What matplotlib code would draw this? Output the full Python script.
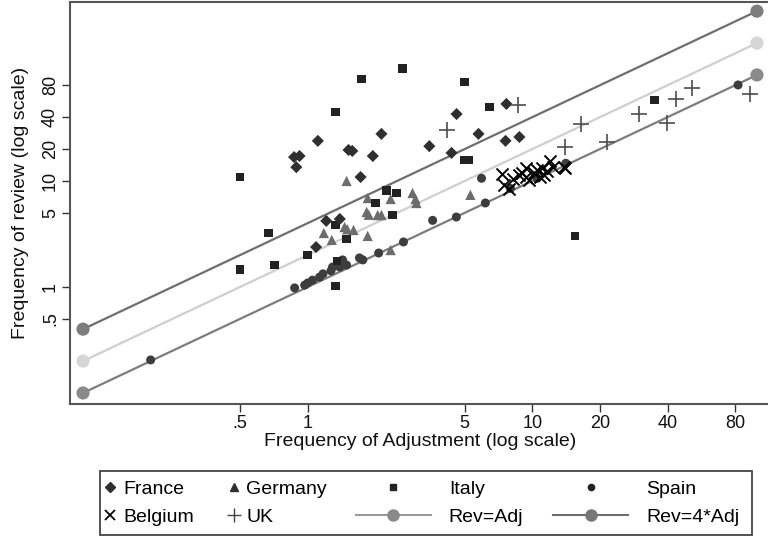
import numpy as np
import matplotlib
matplotlib.use("Agg")
import matplotlib.pyplot as plt
from matplotlib.lines import Line2D
from matplotlib.patches import Rectangle

plt.rcParams['font.family'] = ['Liberation Sans Narrow', 'Liberation Sans', 'DejaVu Sans']

# data (frequency of adjustment, frequency of review)
france_x = [1.11, 0.87, 0.92, 0.89, 7.67, 4.6, 2.13, 5.76, 3.48, 7.6, 8.76, 1.52, 1.58, 1.95, 4.37, 1.72, 1.21, 1.39, 1.09]
france_y = [23.9, 16.8, 17.2, 13.5, 53.3, 42.8, 27.8, 27.8, 21.3, 23.9, 26.0, 19.6, 19.2, 17.2, 18.4, 10.9, 4.2, 4.38, 2.38]

germany_x = [1.49, 2.93, 5.3, 1.85, 2.34, 3.02, 3.05, 1.83, 1.87, 2.05, 2.13, 1.46, 1.50, 1.6, 1.18, 1.28, 1.85, 2.34]
germany_y = [10.0, 7.7, 7.4, 6.9, 6.76, 6.76, 6.2, 5.1, 4.8, 4.77, 4.77, 3.68, 3.5, 3.45, 3.23, 2.78, 3.03, 2.23]

italy_x = [0.5, 2.64, 1.74, 5.0, 1.33, 6.44, 5.0, 5.2, 2.24, 2.49, 2.0, 2.39, 1.33, 1.49, 1.0, 1.35, 1.33, 0.67, 0.5, 0.71, 15.5, 34.9]
italy_y = [10.9, 116, 91.7, 86, 44.8, 49.9, 15.8, 15.8, 8.2, 7.7, 6.2, 4.77, 3.85, 2.84, 2.0, 1.76, 1.02, 3.23, 1.45, 1.61, 3.03, 58]

spain_x = [0.2, 0.875, 0.97, 1.0, 1.05, 1.13, 1.17, 1.27, 1.29, 1.39, 1.35, 1.49, 1.43, 1.70, 1.76, 2.07, 2.67, 3.6, 4.59, 6.18, 5.94, 8.0, 10.5, 14.1, 82.4]
spain_y = [0.205, 0.98, 1.04, 1.09, 1.16, 1.24, 1.33, 1.42, 1.54, 1.54, 1.6, 1.61, 1.8, 1.88, 1.80, 2.09, 2.66, 4.25, 4.57, 6.2, 10.6, 8.5, 10.6, 14.7, 80.5]

belgium_x = [7.36, 7.5, 7.9, 8.2, 8.76, 9.0, 9.4, 9.4, 9.7, 10.2, 10.5, 10.8, 11.0, 11.3, 11.6, 12.0, 12.3, 13.9, 14.0]
belgium_y = [11.6, 9.16, 8.4, 10.5, 11.4, 12.0, 13.3, 10.9, 10.2, 11.9, 12.7, 11.0, 13.3, 11.4, 12.5, 15.4, 13.5, 13.5, 13.3]

uk_x = [8.67, 4.19, 14.0, 16.4, 21.5, 29.9, 39.8, 43.7, 51.5, 93.0]
uk_y = [52, 30.3, 20.9, 34.4, 23.3, 42.8, 35.3, 59.3, 75.3, 66.3]

# reference lines Rev = k * Adj
line_ends = [0.1, 100]
line_mult = [1, 2, 4]
line_cols = ['#7d7d7d', '#cfcfcf', '#6e6e6e']
dot_cols = ['#8a8a8a', '#d6d6d6', '#7d7d7d']

tick_vals = [0.5, 1, 5, 10, 20, 40, 80]
tick_labs = ['.5', '1', '5', '10', '20', '40', '80']

fig = plt.figure(figsize=(7.68, 5.37), dpi=100)
ax = fig.add_axes([70 / 768, 1 - 404 / 537, 700 / 768, 402 / 537])

for k, lc, dc in zip(line_mult, line_cols, dot_cols):
    xs = np.array(line_ends)
    ax.plot(xs, k * xs, color=lc, lw=1.6, zorder=2)
    ax.scatter(xs, k * xs, s=90, color=dc, zorder=3, clip_on=False, edgecolors='none')

ax.scatter(spain_x, spain_y, marker='o', s=42, color='#3d3d3d', zorder=4, edgecolors='none')
ax.scatter(germany_x, germany_y, marker='^', s=55, color='#6c6c6c', zorder=4, edgecolors='none')
ax.scatter(italy_x, italy_y, marker='s', s=40, color='#222222', zorder=4, edgecolors='none')
ax.scatter(france_x, france_y, marker='D', s=38, color='#2f2f2f', zorder=4, edgecolors='none')
ax.scatter(belgium_x, belgium_y, marker='x', s=75, color='#000000', linewidths=1.4, zorder=5)
ax.scatter(uk_x, uk_y, marker='+', s=130, color='#4d4d4d', linewidths=1.2, zorder=5)

ax.set_xscale('log')
ax.set_yscale('log')
ax.set_xlim(0.0875, 114.3)
ax.set_ylim(0.0787, 488)
ax.set_xticks(tick_vals)
ax.set_xticklabels(tick_labs)
ax.set_yticks(tick_vals)
ax.set_yticklabels(tick_labs, rotation=90, va='center')
ax.minorticks_off()
ax.tick_params(axis='both', direction='out', length=6, width=1, color='#333333',
               labelsize=13, labelcolor='#111111', pad=2)
for sp in ax.spines.values():
    sp.set_color('#555555')
    sp.set_linewidth(1.5)
ax.spines['right'].set_visible(False)
ax.set_xlabel('Frequency of Adjustment (log scale)', fontsize=14, color='#111111', labelpad=1)
ax.set_ylabel('Frequency of review (log scale)', fontsize=14, color='#111111', labelpad=9)

# legend: two blocks inside one box
h_fr = Line2D([], [], ls='none', marker='D', ms=4.8, color='#2f2f2f')
h_be = Line2D([], [], ls='none', marker='x', ms=6.5, mew=1.3, color='#000000')
h_ge = Line2D([], [], ls='none', marker='^', ms=6, color='#2f2f2f')
h_uk = Line2D([], [], ls='none', marker='+', ms=9.5, mew=1, color='#444444')
h_it = Line2D([], [], ls='none', marker='s', ms=5, color='#222222')
h_sp = Line2D([], [], ls='none', marker='o', ms=4.5, color='#222222')
h_r1 = Line2D([], [], color='#9a9a9a', lw=1.5, marker='o', ms=8, mfc='#8a8a8a', mec='#8a8a8a')
h_r4 = Line2D([], [], color='#6e6e6e', lw=1.5, marker='o', ms=8, mfc='#777777', mec='#777777')

leg1 = fig.legend([h_fr, h_be, h_ge, h_uk], ['France', 'Belgium', 'Germany', 'UK'],
                  ncol=2, frameon=False, fontsize=14, handlelength=0.7, handletextpad=0.3,
                  columnspacing=1.7, labelspacing=0.55, loc='center left',
                  bbox_to_anchor=(86 / 768, 1 - 503 / 537))
leg2 = fig.legend([h_it, h_r1, h_sp, h_r4], ['Italy', 'Rev=Adj', 'Spain', 'Rev=4*Adj'],
                  ncol=2, frameon=False, fontsize=14, handlelength=3.9, handletextpad=0.9,
                  columnspacing=1.5, labelspacing=0.55, loc='center left',
                  bbox_to_anchor=(338 / 768, 1 - 503 / 537))
fig.add_artist(Rectangle((100 / 768, 1 - 535 / 537), 652 / 768, 64 / 537,
                         transform=fig.transFigure, fill=False, ec='#444444', lw=1.3))

fig.savefig('out.png', dpi=100)
